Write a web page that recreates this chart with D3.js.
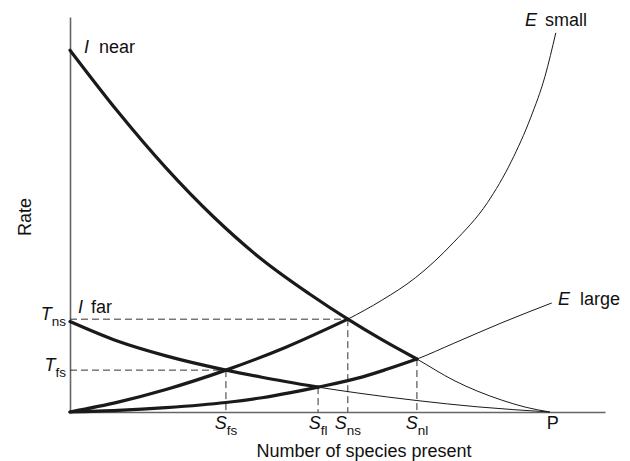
<!DOCTYPE html>
<html>
<head>
<meta charset="utf-8">
<script src="https://cdn.jsdelivr.net/npm/d3@7"></script>
<style>
  html, body { margin: 0; padding: 0; background: #fff; }
  text { font-family: "Liberation Sans", Arial, Helvetica, sans-serif; fill: #111; }
</style>
</head>
<body>
<svg id="chart" width="630" height="461"></svg>
<script>
// ---- data (x: species present, P = 100; y: rate) ----
const iNear = [[0,91.6],[10,76.0],[20,61.8],[30,49.3],[40,38.6],[50,29.8],[57.9,23.5],[65,18.3],[72.3,13.4],[80,8.0],[90,3.0],[95,1.2],[100,0]];
const iFar = [[0,22.9],[10,17.9],[20,14.2],[32.5,10.6],[40,8.8],[51.7,6.3],[60,4.8],[72.3,2.9],[85,1.3],[100,0]];
const eSmall = [[0,0],[10,2.5],[20,5.7],[32.5,10.6],[45,16.4],[57.9,23.5],[65,28.3],[72,34.0],[80,43.0],[87,53.0],[92,63.5],[96,74.5],[99,85],[101.25,96]];
const eLarge = [[0,0],[10,0.4],[20,1.1],[32.5,2.4],[40,3.6],[46,4.9],[51.7,6.3],[61,8.9],[66,10.8],[72.3,13.4],[80,17.4],[90,22.6],[100.4,27.6]];
// thick portion of each curve ends at its furthest equilibrium
const thickEnd = {iNear: 72.3, iFar: 51.7, eSmall: 57.9, eLarge: 72.3};
// equilibria
const sLabels = [{main:"S", sub:"fs", x:32.5, y:10.6},{main:"S", sub:"fl", x:51.7, y:6.3},{main:"S", sub:"ns", x:57.9, y:23.5},{main:"S", sub:"nl", x:72.3, y:13.4}];
const tLabels = [{main:"T", sub:"ns", x:57.9, y:23.5},{main:"T", sub:"fs", x:32.5, y:10.6}];
const curveNames = [{letter:"I", word:"near", lx:84, wx:99, by:53},{letter:"I", word:"far", lx:78, wx:91, by:313},{letter:"E", word:"small", lx:525, wx:545, by:26},{letter:"E", word:"large", lx:558, wx:580, by:305}];
const xMaxDomain = 111.5;
const yMaxDomain = 100;

const svg = d3.select("#chart");
const x = d3.scaleLinear().domain([0, xMaxDomain]).range([70, 605]);
const y = d3.scaleLinear().domain([0, yMaxDomain]).range([412, 17]);

// axes (no ticks)
const xAxis = d3.axisBottom(x).tickValues([]).tickSizeOuter(0);
const yAxis = d3.axisLeft(y).tickValues([]).tickSizeOuter(0);
svg.append("g").attr("transform", "translate(0,412)").call(xAxis)
  .select(".domain").attr("stroke", "#666").attr("stroke-width", 1.6);
svg.append("g").attr("transform", "translate(70,0)").call(yAxis)
  .select(".domain").attr("stroke", "#666").attr("stroke-width", 1.6);

// dashed guides
const dashG = svg.append("g").attr("stroke", "#333").attr("stroke-width", 1).attr("stroke-dasharray", "7,4").attr("fill", "none");
tLabels.forEach(d => {
  dashG.append("line").attr("x1", x(0)).attr("x2", x(d.x)).attr("y1", y(d.y)).attr("y2", y(d.y));
});
sLabels.forEach(d => {
  dashG.append("line").attr("x1", x(d.x)).attr("x2", x(d.x)).attr("y1", y(d.y)).attr("y2", y(0));
});

// curves
const line = d3.line().x(d => x(d[0])).y(d => y(d[1])).curve(d3.curveMonotoneX);
const curves = [["iNear", iNear], ["iFar", iFar], ["eSmall", eSmall], ["eLarge", eLarge]];
curves.forEach(([k, data]) => {
  svg.append("path").attr("d", line(data)).attr("fill", "none").attr("stroke", "#1a1a1a").attr("stroke-width", 1);
  svg.append("path").attr("d", line(data.filter(p => p[0] <= thickEnd[k] + 1e-9)))
    .attr("fill", "none").attr("stroke", "#1a1a1a").attr("stroke-width", 3.2)
    .attr("stroke-linecap", "round").attr("stroke-linejoin", "round");
});

// curve labels
curveNames.forEach(d => {
  const t = svg.append("text").attr("y", d.by).attr("font-size", 18);
  t.append("tspan").attr("x", d.lx).attr("font-style", "italic").text(d.letter);
  t.append("tspan").attr("x", d.wx).text(d.word);
});

// T labels
tLabels.forEach(d => {
  const t = svg.append("text").attr("x", x(0) - 4).attr("y", y(d.y) + 1).attr("text-anchor", "end").attr("font-size", 18);
  t.append("tspan").attr("font-style", "italic").text(d.main);
  t.append("tspan").attr("font-size", 13.5).attr("dy", 6).text(d.sub);
});
// S labels
sLabels.forEach(d => {
  const t = svg.append("text").attr("x", x(d.x)).attr("y", 429).attr("text-anchor", "middle").attr("font-size", 18);
  t.append("tspan").attr("font-style", "italic").text(d.main);
  t.append("tspan").attr("font-size", 13.5).attr("dy", 6).text(d.sub);
});
// P
svg.append("text").attr("x", x(100) + 3).attr("y", 429).attr("text-anchor", "middle").attr("font-size", 18).text("P");

// axis titles
svg.append("text").attr("x", 364).attr("y", 457).attr("text-anchor", "middle").attr("font-size", 18).text("Number of species present");
svg.append("text").attr("transform", "translate(31,217) rotate(-90)").attr("text-anchor", "middle").attr("font-size", 18).text("Rate");
</script>
</body>
</html>
